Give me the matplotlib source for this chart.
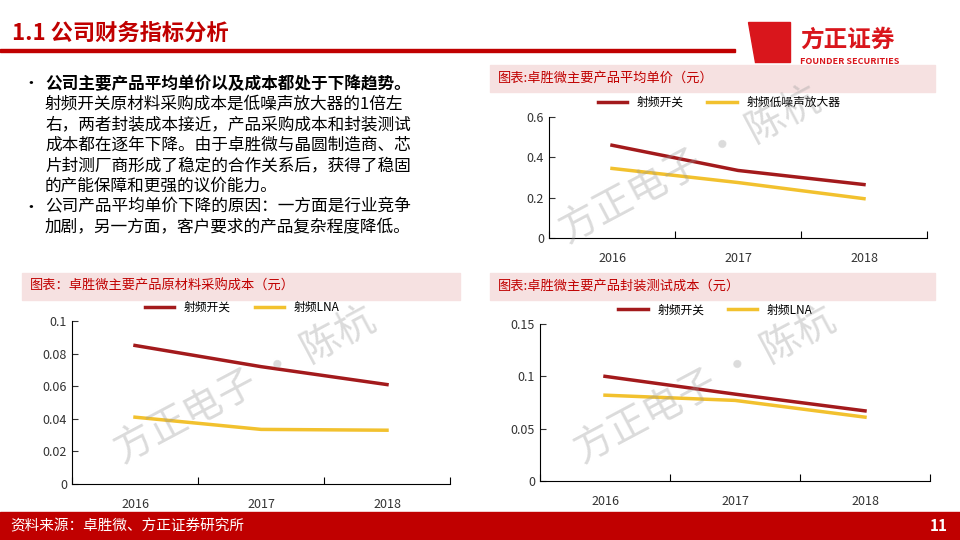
import matplotlib.pyplot as plt
from matplotlib.patches import Rectangle, Polygon

plt.rcParams['font.family'] = ['Noto Sans CJK SC', 'DejaVu Sans']

years = ['2016', '2017', '2018']
price_switch = [0.46, 0.335, 0.265]
price_lna = [0.345, 0.275, 0.195]
raw_switch = [0.085, 0.072, 0.061]
raw_lna = [0.041, 0.0335, 0.033]
pack_switch = [0.100, 0.083, 0.067]
pack_lna = [0.082, 0.077, 0.061]

RED = '#a31a1c'
YEL = '#f2c12e'
W, H = 960, 540

fig = plt.figure(figsize=(9.6, 5.4), dpi=100)

def px(x0, y0, x1, y1):
    return [x0 / W, 1 - y1 / H, (x1 - x0) / W, (y1 - y0) / H]

# header
fig.text(12 / W, 1 - 33 / H, '1.1 公司财务指标分析', color='#c00000', fontsize=16,
         fontweight='bold', va='center')
fig.add_artist(Rectangle((0, 1 - 52 / H), 735 / W, 3 / H, color='#c00000', transform=fig.transFigure))
fig.add_artist(Polygon([(748 / W, 1 - 22 / H), (790 / W, 1 - 22 / H), (790 / W, 1 - 62 / H), (755 / W, 1 - 62 / H)],
                       closed=True, color='#d9161c', transform=fig.transFigure))
fig.text(800 / W, 1 - 40 / H, '方正证券', color='#d9161c', fontsize=17, fontweight='bold', va='center')
fig.text(800 / W, 1 - 61 / H, 'FOUNDER SECURITIES', color='#d9161c', fontsize=6.5, fontweight='bold', va='center')

# footer
fig.add_artist(Rectangle((0, 0), 1, 28 / H, color='#c00000', transform=fig.transFigure))
fig.text(10 / W, 14 / H, '资料来源：卓胜微、方正证券研究所', color='white', fontsize=10.5, va='center')
fig.text(948 / W, 14 / H, '11', color='white', fontsize=11, fontweight='bold', va='center', ha='right')

# bullet text
lines = [
    ('•', '公司主要产品平均单价以及成本都处于下降趋势。', True),
    ('', '射频开关原材料采购成本是低噪声放大器的1倍左', False),
    ('', '右，两者封装成本接近，产品采购成本和封装测试', False),
    ('', '成本都在逐年下降。由于卓胜微与晶圆制造商、芯', False),
    ('', '片封测厂商形成了稳定的合作关系后，获得了稳固', False),
    ('', '的产能保障和更强的议价能力。', False),
    ('•', '公司产品平均单价下降的原因：一方面是行业竞争', False),
    ('', '加剧，另一方面，客户要求的产品复杂程度降低。', False),
]
for i, (b, t, bold) in enumerate(lines):
    y = 1 - (84 + i * 20.5) / H
    if b:
        fig.text(22 / W, y, b, fontsize=12, va='center')
    fig.text(45 / W, y, t, fontsize=12, va='center', fontweight='bold' if bold else 'normal')

def band(x0, y0, x1, y1, title):
    fig.add_artist(Rectangle((x0 / W, 1 - y1 / H), (x1 - x0) / W, (y1 - y0) / H,
                             color='#f6e1e1', transform=fig.transFigure))
    fig.text((x0 + 8) / W, 1 - (y0 + y1) / 2 / H, title, color='#c00000', fontsize=9.5, va='center')

def chart(rect, s1, s2, l1, l2, ymax, step, fmt):
    ax = fig.add_axes(rect)
    x = range(len(years))
    ax.plot(x, s1, color=RED, lw=2.5, label=l1)
    ax.plot(x, s2, color=YEL, lw=2.5, label=l2)
    ax.set_xlim(-0.5, 2.5)
    ax.set_ylim(0, ymax)
    yt = [round(i * step, 4) for i in range(int(round(ymax / step)) + 1)]
    ax.set_yticks(yt)
    ax.set_yticklabels([fmt(v) for v in yt])
    ax.set_xticks([-0.5, 0.5, 1.5, 2.5])
    ax.set_xticklabels([])
    ax.set_xticks(list(x), minor=True)
    ax.set_xticklabels(years, minor=True)
    ax.tick_params(axis='x', which='minor', length=0, pad=10, labelsize=9, colors='#333333')
    ax.tick_params(axis='x', which='major', length=5, direction='in')
    ax.tick_params(axis='y', length=4, direction='in', labelsize=9, colors='#333333')
    ax.spines[['top', 'right']].set_visible(False)
    ax.set_facecolor('none')
    ax.legend(loc='lower center', bbox_to_anchor=(0.45, 0.98), ncol=2, frameon=False,
              fontsize=8.5, handlelength=2.5, columnspacing=2)
    return ax

def f(v):
    return '0' if v == 0 else ('%g' % v)

band(490, 65, 935, 92, '图表:卓胜微主要产品平均单价（元）')
chart(px(549, 117, 927, 238), price_switch, price_lna, '射频开关', '射频低噪声放大器', 0.6, 0.2, f)
band(22, 273, 460, 300, '图表：卓胜微主要产品原材料采购成本（元）')
chart(px(72, 321, 450, 484), raw_switch, raw_lna, '射频开关', '射频LNA', 0.1, 0.02, f)
band(490, 273, 935, 300, '图表:卓胜微主要产品封装测试成本（元）')
chart(px(540, 324, 930, 481), pack_switch, pack_lna, '射频开关', '射频LNA', 0.15, 0.05, f)

# watermarks
for (x, y) in [(690, 165), (245, 385), (705, 385)]:
    fig.text(x / W, 1 - y / H, '方正电子 · 陈杭', fontsize=28, color='#999999', alpha=0.35,
             rotation=28, ha='center', va='center', family=['Noto Sans CJK SC'])

fig.savefig('out.png', dpi=100)
